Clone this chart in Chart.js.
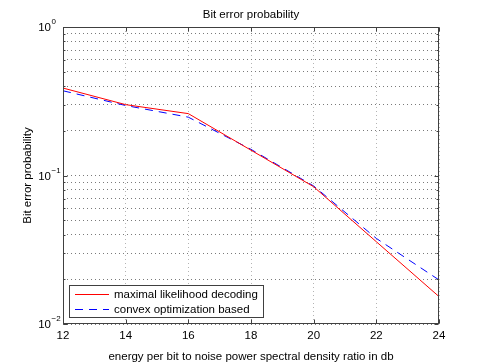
<!DOCTYPE html>
<html><head><meta charset="utf-8">
<script src="https://cdn.jsdelivr.net/npm/chart.js@4/dist/chart.umd.min.js"></script>
<style>html,body{margin:0;padding:0;background:#fff}canvas{display:block}</style>
</head><body>
<canvas id="c" width="485" height="364"></canvas>
<script>
// ---- data ----
const ebn0 = [12, 14, 16, 18, 20, 22, 24];
const mlDecoding = [0.388, 0.300, 0.261, 0.148, 0.084, 0.0358, 0.0153];
const convexOpt  = [0.372, 0.296, 0.247, 0.150, 0.085, 0.0377, 0.0198];
const seriesLabels = ['maximal likelihood decoding', 'convex optimization based'];
const seriesColors = ['#ff0000', '#0000ff'];
const xTicks = [12, 14, 16, 18, 20, 22, 24];
const yMajorTicks = [0.01, 0.1, 1];
const yMajorLabels = [['10', '\u22122'], ['10', '\u22121'], ['10', '0']];
const yGridTicks = [0.01, 0.02, 0.03, 0.04, 0.05, 0.06, 0.07, 0.08, 0.09,
                    0.1, 0.2, 0.3, 0.4, 0.5, 0.6, 0.7, 0.8, 0.9, 1];
const titleText = 'Bit error probability';
const xTitle = 'energy per bit to noise power spectral density ratio in db';
const yTitle = 'Bit error probability';

const FONT = "'Liberation Sans', Arial, Helvetica, sans-serif";
const FS = 11.5;
Chart.defaults.font.family = FONT;
Chart.defaults.font.size = FS;
Chart.defaults.color = '#000';

const toPts = (xs, ys) => xs.map((x, i) => ({x: x, y: ys[i]}));

const matlabPlugin = {
  id: 'matlabBox',
  afterDraw(chart) {
    const {ctx, chartArea: a, scales: {x, y}} = chart;
    const L = Math.round(a.left) + 0.5, R = Math.round(a.right) - 0.5;
    const T = Math.round(a.top) + 0.5, B = Math.round(a.bottom) - 0.5;
    ctx.save();
    ctx.strokeStyle = '#404040';
    ctx.lineWidth = 1;
    ctx.setLineDash([]);
    ctx.beginPath();
    // inner ticks on all four sides
    xTicks.forEach(v => {
      const px = Math.round(x.getPixelForValue(v)) + 0.5;
      ctx.moveTo(px, B); ctx.lineTo(px, B - 4);
      ctx.moveTo(px, T); ctx.lineTo(px, T + 4);
    });
    yGridTicks.forEach(v => {
      const py = Math.round(y.getPixelForValue(v)) + 0.5;
      const len = yMajorTicks.includes(v) ? 4 : 2;
      ctx.moveTo(L, py); ctx.lineTo(L + len, py);
      ctx.moveTo(R, py); ctx.lineTo(R - len, py);
    });
    ctx.stroke();
    ctx.strokeRect(L, T, R - L, B - T);

    // y tick labels 10^n
    ctx.fillStyle = '#000';
    yMajorTicks.forEach((v, i) => {
      const py = y.getPixelForValue(v);
      ctx.font = FS + 'px ' + FONT;
      ctx.textAlign = 'right';
      ctx.textBaseline = 'middle';
      ctx.fillText(yMajorLabels[i][0], a.left - 12, py + 1);
      ctx.font = '8px ' + FONT;
      ctx.textAlign = 'left';
      ctx.fillText(yMajorLabels[i][1], a.left - 11.5, py - 5);
    });

    // legend (lower left, inside the axes)
    ctx.font = FS + 'px ' + FONT;
    const lx = 69.5, ly = 285.5;
    const tw = Math.max(...chart.data.datasets.map(d => ctx.measureText(d.label).width));
    const lw = Math.round(114 - 69 + tw + 5), lh = 32;
    ctx.fillStyle = '#fff';
    ctx.fillRect(lx, ly, lw, lh);
    ctx.strokeStyle = '#404040';
    ctx.strokeRect(lx, ly, lw, lh);
    chart.data.datasets.forEach((d, i) => {
      const ry = Math.round(ly + 8.5 + i * 15) + 0.5;
      ctx.beginPath();
      ctx.strokeStyle = seriesColors[i];
      ctx.lineWidth = 1;
      ctx.setLineDash(d.borderDash || []);
      ctx.moveTo(75, ry); ctx.lineTo(109, ry);
      ctx.stroke();
      ctx.setLineDash([]);
      ctx.fillStyle = '#000';
      ctx.textAlign = 'left';
      ctx.textBaseline = 'middle';
      ctx.fillText(d.label, 114, ry);
    });
    ctx.restore();
  }
};

new Chart(document.getElementById('c'), {
  type: 'line',
  data: {
    datasets: [
      {label: seriesLabels[0], data: toPts(ebn0, mlDecoding), borderColor: seriesColors[0],
       borderWidth: 1, pointRadius: 0, tension: 0, fill: false},
      {label: seriesLabels[1], data: toPts(ebn0, convexOpt), borderColor: seriesColors[1],
       borderWidth: 1, borderDash: [8, 6], pointRadius: 0, tension: 0, fill: false}
    ]
  },
  options: {
    responsive: false, animation: false, devicePixelRatio: 1,
    layout: {padding: {left: 0, right: 46, top: 0, bottom: 0}},
    plugins: {
      legend: {display: false},
      tooltip: {enabled: false},
      title: {display: true, text: titleText, color: '#000', fullSize: false,
              font: {size: FS, weight: 'normal'}, padding: {top: 8, bottom: 5.2}}
    },
    scales: {
      x: {
        type: 'linear', min: 12, max: 24,
        afterBuildTicks: s => { s.ticks = xTicks.map(v => ({value: v})); },
        afterFit: s => { s.height = 40; },
        grid: {color: '#b4b4b4', lineWidth: 1, drawTicks: false},
        border: {display: false, dash: [1, 3]},
        ticks: {color: '#000', padding: 4.5, maxRotation: 0, autoSkip: false, font: {size: FS}},
        title: {display: true, text: xTitle, color: '#000', font: {size: FS}, padding: {top: 0, bottom: 0}}
      },
      y: {
        type: 'logarithmic', min: 0.01, max: 1,
        afterBuildTicks: s => { s.ticks = yGridTicks.map(v => ({value: v})); },
        afterFit: s => { s.width = 63; },
        grid: {color: '#7a7a7a', lineWidth: 1, drawTicks: false},
        border: {display: false, dash: [1, 3]},
        ticks: {display: false},
        title: {display: true, text: yTitle, color: '#000', font: {size: FS}, padding: {top: 20.5, bottom: 0}}
      }
    }
  },
  plugins: [matlabPlugin]
});
</script>
</body></html>
